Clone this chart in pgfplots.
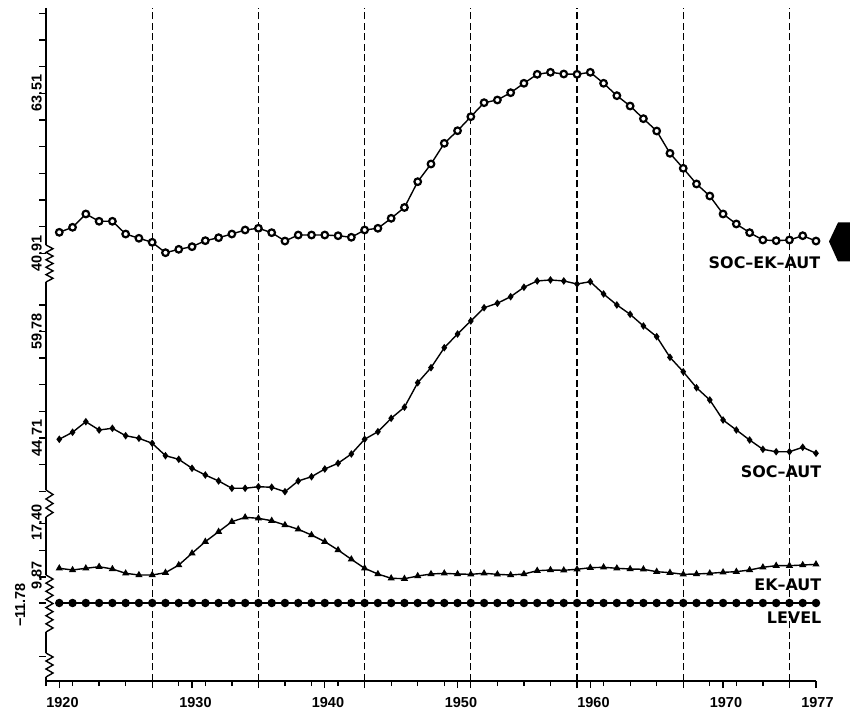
\documentclass[border=0pt]{standalone}
\usepackage{fontspec}
\setmainfont{Liberation Sans}
\newfontfamily\labfont{DejaVu Sans}
\newfontfamily\tickfam{Liberation Sans}
\usepackage{pgfplots}
\pgfplotsset{compat=1.18}
\usepackage{pgfplotstable}

\pgfplotstableread{
year sea sa ea lev
1920 43.83 44.53 11.10 -11.78
1921 44.54 45.52 10.86 -11.78
1922 46.42 47.01 11.10 -11.78
1923 45.39 45.84 11.32 -11.78
1924 45.39 46.08 11.00 -11.78
1925 43.59 45.03 10.39 -11.78
1926 42.99 44.67 10.15 -11.78
1927 42.42 43.96 10.15 -11.78
1928 40.95 42.21 10.48 -11.78
1929 41.43 41.70 11.56 -11.78
1930 41.80 40.43 13.22 -11.78
1931 42.65 39.48 14.86 -11.78
1932 43.07 38.64 16.27 -11.78
1933 43.59 37.61 17.68 -11.78
1934 44.16 37.61 18.30 -11.78
1935 44.40 37.83 18.16 -11.78
1936 43.78 37.75 17.82 -11.78
1937 42.60 37.13 17.21 -11.78
1938 43.45 38.64 16.61 -11.78
1939 43.45 39.24 15.80 -11.78
1940 43.45 40.33 14.86 -11.78
1941 43.35 41.14 13.68 -11.78
1942 43.13 42.45 12.37 -11.78
1943 44.16 44.53 11.10 -11.78
1944 44.40 45.60 10.29 -11.78
1945 45.81 47.49 9.69 -11.78
1946 47.34 49.06 9.63 -11.78
1947 50.98 52.52 10.01 -11.78
1948 53.48 54.64 10.29 -11.78
1949 56.40 57.46 10.39 -11.78
1950 58.18 59.40 10.29 -11.78
1951 60.16 61.24 10.25 -11.78
1952 62.14 63.11 10.39 -11.78
1953 62.52 63.74 10.25 -11.78
1954 63.55 64.67 10.15 -11.78
1955 64.88 66.00 10.29 -11.78
1956 66.15 66.89 10.76 -11.78
1957 66.43 67.03 10.86 -11.78
1958 66.19 66.89 10.82 -11.78
1959 66.15 66.46 10.96 -11.78
1960 66.43 66.79 11.18 -11.78
1961 64.88 65.05 11.24 -11.78
1962 63.13 63.50 11.10 -11.78
1963 61.67 62.18 11.00 -11.78
1964 59.88 60.53 10.96 -11.78
1965 58.14 59.02 10.62 -11.78
1966 54.99 56.11 10.48 -11.78
1967 52.87 54.07 10.25 -11.78
1968 50.66 51.81 10.29 -11.78
1969 48.96 50.08 10.39 -11.78
1970 46.42 47.25 10.53 -11.78
1971 45.01 45.84 10.62 -11.78
1972 43.78 44.43 10.86 -11.78
1973 42.75 43.11 11.24 -11.78
1974 42.65 42.77 11.47 -11.78
1975 42.75 42.77 11.47 -11.78
1976 43.35 43.40 11.56 -11.78
1977 42.60 42.55 11.66 -11.78
}\data

\newcommand{\tkf}{\tickfam\bfseries\fontsize{14.5}{16}\selectfont}
\newcommand{\labf}{\labfont\bfseries\fontsize{16}{18}\selectfont}

\begin{document}
\begin{tikzpicture}
\useasboundingbox (0,0) rectangle (850bp,711bp);
\begin{axis}[
  at={(46bp,30bp)}, anchor=south west,
  scale only axis, width=770bp, height=673bp,
  xmin=1919, xmax=1977, ymin=0, ymax=673,
  axis x line=bottom, axis y line=left,
  axis line style={-, line width=1.4bp},
  y axis line style={draw=none},
  clip=false,
  xtick={1920,1930,1940,1950,1960,1970,1977},
  xticklabels={},
  minor xtick={1919,1921,...,1977},
  extra x ticks={1927,1935,1943,1951,1959,1967,1975},
  extra x tick labels={},
  extra x tick style={xmajorgrids=true, major grid style={dash pattern=on 7bp off 3.5bp, line width=1.3bp, black}},
  ytick={24.7,78,104,130.7,157.3,189.7,216.3,243,269.7,296.3,323,349.7,376,427.7,454.3,481,507.7,534.3,561,587.7,614.3,641,667.7},
  yticklabels={},
  tick align=outside,
  major tick length=7bp, minor tick length=5bp,
  every tick/.style={black, line width=1.3bp},
]
\addplot[black, line width=1.4bp, mark=*, mark size=3.3bp, mark options={fill=white, line width=2.2bp}]
  table[x=year, y expr={428+7.08*(\thisrow{sea}-40.91)}] {\data};
\addplot[black, line width=1.4bp, mark=diamond*, mark size=2.7bp]
  table[x=year, y expr={243+7.08*(\thisrow{sa}-44.71)}] {\data};
\addplot[black, line width=1.4bp, mark=triangle*, mark size=2.8bp]
  table[x=year, y expr={104+7.08*(\thisrow{ea}-9.87)}] {\data};
\addplot[black, line width=1.4bp, mark=*, mark size=3.5bp]
  table[x=year, y expr={78+7.08*(\thisrow{lev}+11.78)}] {\data};
\end{axis}
\begin{scope}[x=1bp, y=1bp, line width=1.4bp]
  % broken y axis
  \draw (46,703) -- (46,466);
  \draw (46,429) -- (46,221);
  \draw (46,194) -- (46,136);
  \draw (46,79) -- (46,58);
  \draw (46,34) -- (46,30);
  \newcommand{\zz}[3]{% top, bottom, teeth
    \pgfmathsetmacro{\st}{(#1-#2)/#3}%
    \draw[line join=miter] (46,#1) \foreach \k in {1,...,#3} { -- (53,{#1-(\k-0.5)*\st}) -- (46,{#1-\k*\st}) };}
  \zz{466}{429}{5}
  \zz{221}{194}{3}
  \zz{136}{79}{7}
  \zz{58}{34}{3}
  % x tick labels
  \foreach \yr/\xx in {1920/62.5,1930/195.5,1940/328,1950/461,1960/593.5,1970/726,1977/817.5}
    \node[anchor=north, inner sep=0pt, font=\tkf] at (\xx,14.5) {\yr};
  % y tick labels (rotated)
  \foreach \lab/\yy in {63.51/618,40.91/457.7,59.78/379.7,44.71/273,17.40/188.5,9.87/135.5}
    \node[anchor=south, rotate=90, inner sep=0pt, font=\tkf] at (42.5,\yy) {\lab};
  \node[anchor=south, rotate=90, inner sep=0pt, font=\tkf] at (26,106) {−11.78};
  % series labels
  \node[anchor=east, inner sep=0pt, font=\labf] at (821,448) {SOC–EK–AUT};
  \node[anchor=east, inner sep=0pt, font=\labf] at (822,239) {SOC–AUT};
  \node[anchor=east, inner sep=0pt, font=\labf] at (822,126) {EK–AUT};
  \node[anchor=east, inner sep=0pt, font=\labf] at (822,93) {LEVEL};
  % arrow
  \fill (829,469.5) -- (838,488.5) -- (862,488.5) -- (862,449.5) -- (838,449.5) -- cycle;
\end{scope}
\end{tikzpicture}
\end{document}
